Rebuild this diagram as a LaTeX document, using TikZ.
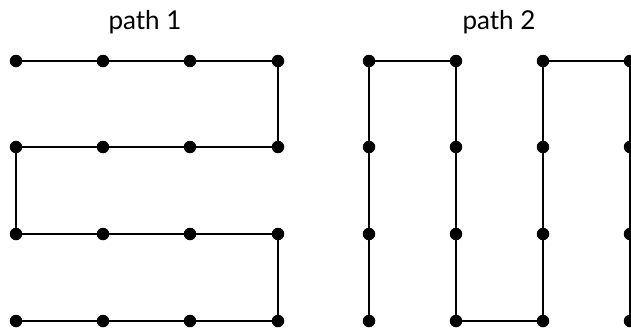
\documentclass[tikz,border=0pt]{standalone}
\usepackage{fontspec}
\setmainfont{Lato}
\tikzset{dot/.style={circle,fill=black,inner sep=0pt,minimum size=12.5pt},
  edge/.style={line width=2.6pt},
  title/.style={font=\fontsize{26}{30}\selectfont,anchor=base}}

\begin{document}
\begin{tikzpicture}[x=1pt,y=-1pt]
\useasboundingbox (0,0) rectangle (631,330);
% grid of dots, path 1 and path 2
\foreach \c/\x in {1/16,2/103,3/190,4/278}
  \foreach \r/\y in {1/61,2/147,3/234,4/321}
    \node[dot] (p\c\r) at (\x,\y) {};
\foreach \c/\x in {1/369,2/456,3/543,4/630}
  \foreach \r/\y in {1/61,2/147,3/234,4/321}
    \node[dot] (q\c\r) at (\x,\y) {};
\node[title] (lab1) at (145,29) {path 1};
\node[title] (lab2) at (499,29) {path 2};
% path 1
\draw[edge] (p11) -- (p21) -- (p31) -- (p41) -- (p42) -- (p32) -- (p22) -- (p12)
  -- (p13) -- (p23) -- (p33) -- (p43) -- (p44) -- (p34) -- (p24) -- (p14);
% path 2
\draw[edge] (q14) -- (q13) -- (q12) -- (q11) -- (q21) -- (q22) -- (q23) -- (q24)
  -- (q34) -- (q33) -- (q32) -- (q31) -- (q41) -- (q42) -- (q43) -- (q44);
\end{tikzpicture}
\end{document}
